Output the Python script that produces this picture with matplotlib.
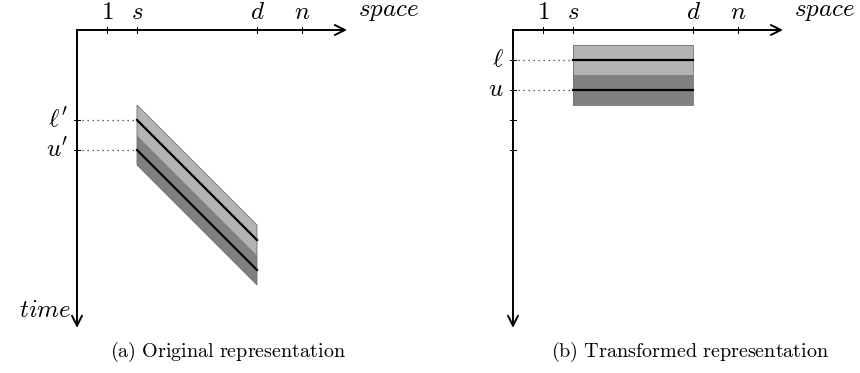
import matplotlib
matplotlib.use('Agg')
import matplotlib.pyplot as plt
from matplotlib.patches import Polygon

plt.rcParams['mathtext.fontset'] = 'cm'
plt.rcParams['font.family'] = 'serif'
plt.rcParams['font.serif'] = ['DejaVu Serif']

# space axis ticks (same for both panels)
space_ticks = [1, 2, 6, 7.5]
space_labels = [r'$1$', r'$s$', r'$d$', r'$n$']
s_pos, d_pos = 2, 6
space_end = 9.0
time_end = 9.93

# panel (a): original, band drifts with time
a_rows = [3, 4]
a_labels = [r"$\ell'$", r"$u'$"]
a_band = [2.5, 3.5, 4.5]      # top, split, bottom at s
a_shift = 4                    # time shift between s and d

# panel (b): transformed, band is horizontal
b_rows = [1, 2]
b_labels = [r'$\ell$', r'$u$']
b_band = [0.5, 1.5, 2.5]
b_shift = 0
b_extra_ticks = [3, 4]

captions = ['(a) Original representation', '(b) Transformed representation']

W, H = 860, 373
unit = 30.0
LAB = 18
fig = plt.figure(figsize=(W / 100, H / 100), dpi=100)


def make_axes(x0_px, origin_px):
    ax = fig.add_axes([x0_px / W, 0, 430 / W, 1])
    ox, oy = origin_px
    ax.set_xlim(-(ox - x0_px) / unit, (x0_px + 430 - ox) / unit)
    ax.set_ylim((H - oy) / unit, -oy / unit)
    ax.axis('off')
    return ax


def draw_panel(ax, rows, labels, band, shift, extra_ticks, time_label):
    # bands
    light = Polygon([(s_pos, band[0]), (d_pos, band[0] + shift),
                     (d_pos, band[1] + shift), (s_pos, band[1])],
                    closed=True, facecolor='#b3b3b3', edgecolor='none')
    dark = Polygon([(s_pos, band[1]), (d_pos, band[1] + shift),
                    (d_pos, band[2] + shift), (s_pos, band[2])],
                   closed=True, facecolor='#808080', edgecolor='none')
    outline = Polygon([(s_pos, band[0]), (d_pos, band[0] + shift),
                       (d_pos, band[2] + shift), (s_pos, band[2])],
                      closed=True, facecolor='none', edgecolor='#707070', lw=0.6)
    ax.add_patch(light)
    ax.add_patch(dark)
    ax.add_patch(outline)
    for r in rows:
        ax.plot([s_pos, d_pos], [r, r + shift], color='black', lw=1.6)
        ax.plot([0, s_pos], [r, r], color='#333333', lw=0.9, ls=(0, (1, 3)))

    # axes
    ax.plot([0, 0], [0, 0.5], color='black', lw=1.4, solid_capstyle='projecting')
    ax.annotate('', xy=(space_end, 0), xytext=(0, 0),
                arrowprops=dict(arrowstyle='->', lw=1.4, shrinkA=0, shrinkB=0,
                                mutation_scale=18, color='black'))
    ax.annotate('', xy=(0, time_end), xytext=(0, 0),
                arrowprops=dict(arrowstyle='->', lw=1.4, shrinkA=0, shrinkB=0,
                                mutation_scale=18, color='black'))

    for t, lab in zip(space_ticks, space_labels):
        ax.plot([t, t], [-0.1, 0.1], color='black', lw=0.7)
        ax.text(t, -0.2, lab, ha='center', va='bottom', fontsize=LAB)
    ax.text(9.35, -0.62, r'$space$', ha='left', va='center', fontsize=LAB)

    for r, lab in zip(rows, labels):
        ax.plot([-0.1, 0.1], [r, r], color='black', lw=0.7)
        ax.text(-0.3, r, lab, ha='right', va='center', fontsize=LAB)
    for r in extra_ticks:
        ax.plot([-0.1, 0.1], [r, r], color='black', lw=0.7)
    if time_label:
        ax.text(-0.2, 9.35, r'$time$', ha='right', va='center', fontsize=LAB)


ax_a = make_axes(0, (77, 30))
draw_panel(ax_a, a_rows, a_labels, a_band, a_shift, [], True)
ax_b = make_axes(430, (513, 30))
draw_panel(ax_b, b_rows, b_labels, b_band, b_shift, b_extra_ticks, False)

fig.text(228 / W, 1 - 352 / H, r'$\mathrm{(a)\ Original\ representation}$',
         ha='center', va='center', fontsize=14.5)
fig.text(690 / W, 1 - 352 / H, r'$\mathrm{(b)\ Transformed\ representation}$',
         ha='center', va='center', fontsize=14.5)

fig.savefig('out.png', dpi=100)
